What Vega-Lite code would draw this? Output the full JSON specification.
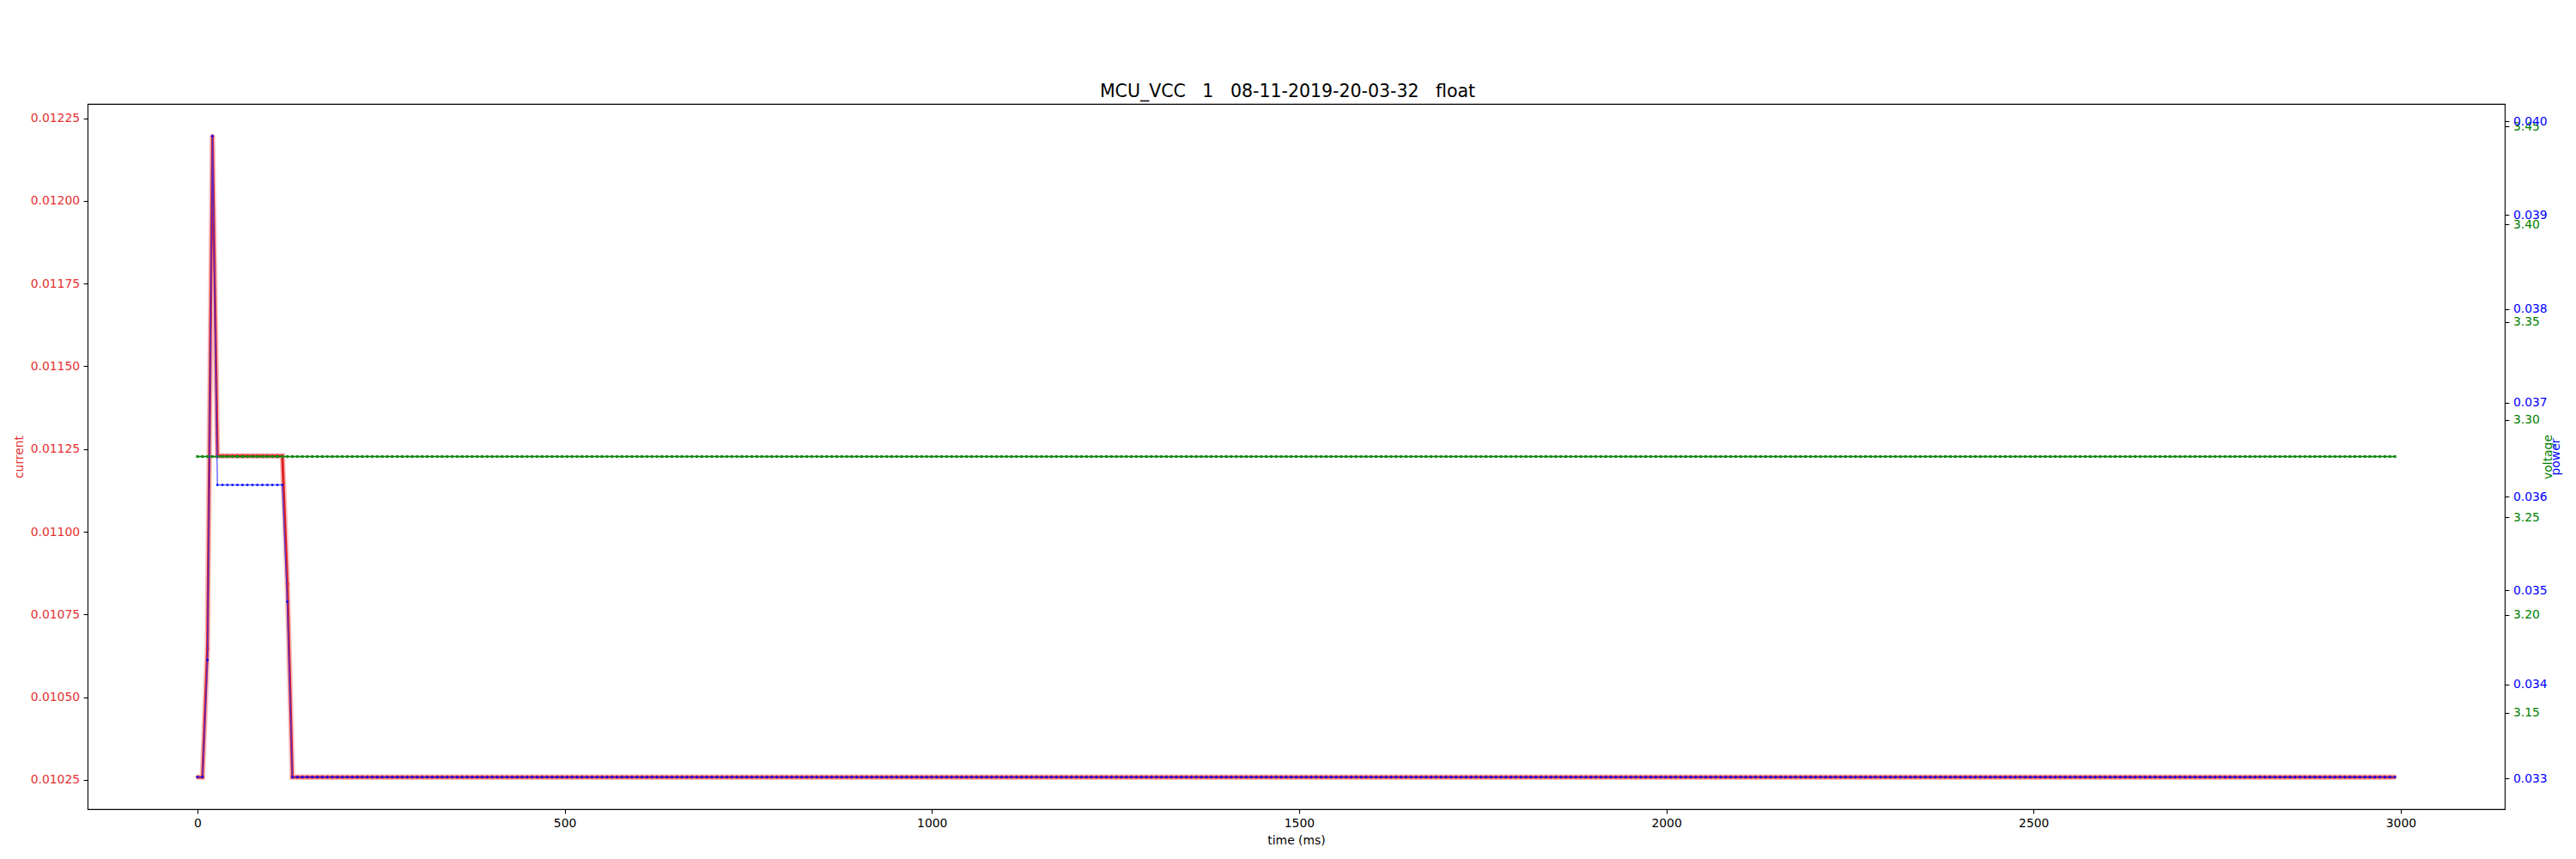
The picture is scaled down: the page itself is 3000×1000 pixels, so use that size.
{
"$schema": "https://vega.github.io/schema/vega-lite/v6.json",
"width": 2815, "height": 821,
"autosize": {"type": "none"},
"padding": {"left": 102, "top": 121, "right": 83, "bottom": 58},
"background": "white",
"config": {
 "view": {"stroke": "black", "strokeWidth": 1.1},
 "font": "DejaVu Sans",
 "axis": {"grid": false, "domain": false, "tickColor": "black", "tickSize": 4.9, "tickWidth": 1.1, "labelPadding": 4.5, "labelFont": "DejaVu Sans", "labelFontSize": 13.9, "titleFont": "DejaVu Sans", "titleFontSize": 13.9, "titleFontWeight": "normal", "labelOverlap": false, "labelFlush": false, "labelBound": false}
},
"title": {"text": "MCU_VCC\u00a0\u00a0\u00a01\u00a0\u00a0\u00a008-11-2019-20-03-32\u00a0\u00a0\u00a0float", "font": "DejaVu Sans", "fontSize": 20.5, "fontWeight": "normal", "color": "black", "anchor": "middle", "frame": "group", "baseline": "alphabetic", "offset": 8.3, "dx": -10, "dy": 21},
"data": {"values": [
{"t":0,"c":0.0102585,"v":3.2811,"p":0.0330128},
{"t":6.8,"c":0.0102585,"v":3.2811,"p":0.0330128},
{"t":13.6,"c":0.010647,"v":3.2811,"p":0.03426},
{"t":20.4,"c":0.012196,"v":3.2811,"p":0.039842},
{"t":27.2,"c":0.0112293,"v":3.2811,"p":0.036125},
{"t":34,"c":0.0112293,"v":3.2811,"p":0.036125},
{"t":40.8,"c":0.0112293,"v":3.2811,"p":0.036125},
{"t":47.6,"c":0.0112293,"v":3.2811,"p":0.036125},
{"t":54.4,"c":0.0112293,"v":3.2811,"p":0.036125},
{"t":61.2,"c":0.0112293,"v":3.2811,"p":0.036125},
{"t":68,"c":0.0112293,"v":3.2811,"p":0.036125},
{"t":74.8,"c":0.0112293,"v":3.2811,"p":0.036125},
{"t":81.6,"c":0.0112293,"v":3.2811,"p":0.036125},
{"t":88.4,"c":0.0112293,"v":3.2811,"p":0.036125},
{"t":95.2,"c":0.0112293,"v":3.2811,"p":0.036125},
{"t":102,"c":0.0112293,"v":3.2811,"p":0.036125},
{"t":108.8,"c":0.0112293,"v":3.2811,"p":0.036125},
{"t":115.6,"c":0.0112293,"v":3.2811,"p":0.036125},
{"t":122.4,"c":0.010842,"v":3.2811,"p":0.034881},
{"t":129.2,"c":0.0102585,"v":3.2811,"p":0.0330128},
{"t":136,"c":0.0102585,"v":3.2811,"p":0.0330128},
{"t":142.8,"c":0.0102585,"v":3.2811,"p":0.0330128},
{"t":149.6,"c":0.0102585,"v":3.2811,"p":0.0330128},
{"t":156.4,"c":0.0102585,"v":3.2811,"p":0.0330128},
{"t":163.2,"c":0.0102585,"v":3.2811,"p":0.0330128},
{"t":170,"c":0.0102585,"v":3.2811,"p":0.0330128},
{"t":176.8,"c":0.0102585,"v":3.2811,"p":0.0330128},
{"t":183.6,"c":0.0102585,"v":3.2811,"p":0.0330128},
{"t":190.4,"c":0.0102585,"v":3.2811,"p":0.0330128},
{"t":197.2,"c":0.0102585,"v":3.2811,"p":0.0330128},
{"t":204,"c":0.0102585,"v":3.2811,"p":0.0330128},
{"t":210.8,"c":0.0102585,"v":3.2811,"p":0.0330128},
{"t":217.6,"c":0.0102585,"v":3.2811,"p":0.0330128},
{"t":224.4,"c":0.0102585,"v":3.2811,"p":0.0330128},
{"t":231.2,"c":0.0102585,"v":3.2811,"p":0.0330128},
{"t":238,"c":0.0102585,"v":3.2811,"p":0.0330128},
{"t":244.8,"c":0.0102585,"v":3.2811,"p":0.0330128},
{"t":251.6,"c":0.0102585,"v":3.2811,"p":0.0330128},
{"t":258.4,"c":0.0102585,"v":3.2811,"p":0.0330128},
{"t":265.2,"c":0.0102585,"v":3.2811,"p":0.0330128},
{"t":272,"c":0.0102585,"v":3.2811,"p":0.0330128},
{"t":278.8,"c":0.0102585,"v":3.2811,"p":0.0330128},
{"t":285.6,"c":0.0102585,"v":3.2811,"p":0.0330128},
{"t":292.4,"c":0.0102585,"v":3.2811,"p":0.0330128},
{"t":299.2,"c":0.0102585,"v":3.2811,"p":0.0330128},
{"t":306,"c":0.0102585,"v":3.2811,"p":0.0330128},
{"t":312.8,"c":0.0102585,"v":3.2811,"p":0.0330128},
{"t":319.6,"c":0.0102585,"v":3.2811,"p":0.0330128},
{"t":326.4,"c":0.0102585,"v":3.2811,"p":0.0330128},
{"t":333.2,"c":0.0102585,"v":3.2811,"p":0.0330128},
{"t":340,"c":0.0102585,"v":3.2811,"p":0.0330128},
{"t":346.8,"c":0.0102585,"v":3.2811,"p":0.0330128},
{"t":353.6,"c":0.0102585,"v":3.2811,"p":0.0330128},
{"t":360.4,"c":0.0102585,"v":3.2811,"p":0.0330128},
{"t":367.2,"c":0.0102585,"v":3.2811,"p":0.0330128},
{"t":374,"c":0.0102585,"v":3.2811,"p":0.0330128},
{"t":380.8,"c":0.0102585,"v":3.2811,"p":0.0330128},
{"t":387.6,"c":0.0102585,"v":3.2811,"p":0.0330128},
{"t":394.4,"c":0.0102585,"v":3.2811,"p":0.0330128},
{"t":401.2,"c":0.0102585,"v":3.2811,"p":0.0330128},
{"t":408,"c":0.0102585,"v":3.2811,"p":0.0330128},
{"t":414.8,"c":0.0102585,"v":3.2811,"p":0.0330128},
{"t":421.6,"c":0.0102585,"v":3.2811,"p":0.0330128},
{"t":428.4,"c":0.0102585,"v":3.2811,"p":0.0330128},
{"t":435.2,"c":0.0102585,"v":3.2811,"p":0.0330128},
{"t":442,"c":0.0102585,"v":3.2811,"p":0.0330128},
{"t":448.8,"c":0.0102585,"v":3.2811,"p":0.0330128},
{"t":455.6,"c":0.0102585,"v":3.2811,"p":0.0330128},
{"t":462.4,"c":0.0102585,"v":3.2811,"p":0.0330128},
{"t":469.2,"c":0.0102585,"v":3.2811,"p":0.0330128},
{"t":476,"c":0.0102585,"v":3.2811,"p":0.0330128},
{"t":482.8,"c":0.0102585,"v":3.2811,"p":0.0330128},
{"t":489.6,"c":0.0102585,"v":3.2811,"p":0.0330128},
{"t":496.4,"c":0.0102585,"v":3.2811,"p":0.0330128},
{"t":503.2,"c":0.0102585,"v":3.2811,"p":0.0330128},
{"t":510,"c":0.0102585,"v":3.2811,"p":0.0330128},
{"t":516.8,"c":0.0102585,"v":3.2811,"p":0.0330128},
{"t":523.6,"c":0.0102585,"v":3.2811,"p":0.0330128},
{"t":530.4,"c":0.0102585,"v":3.2811,"p":0.0330128},
{"t":537.2,"c":0.0102585,"v":3.2811,"p":0.0330128},
{"t":544,"c":0.0102585,"v":3.2811,"p":0.0330128},
{"t":550.8,"c":0.0102585,"v":3.2811,"p":0.0330128},
{"t":557.6,"c":0.0102585,"v":3.2811,"p":0.0330128},
{"t":564.4,"c":0.0102585,"v":3.2811,"p":0.0330128},
{"t":571.2,"c":0.0102585,"v":3.2811,"p":0.0330128},
{"t":578,"c":0.0102585,"v":3.2811,"p":0.0330128},
{"t":584.8,"c":0.0102585,"v":3.2811,"p":0.0330128},
{"t":591.6,"c":0.0102585,"v":3.2811,"p":0.0330128},
{"t":598.4,"c":0.0102585,"v":3.2811,"p":0.0330128},
{"t":605.2,"c":0.0102585,"v":3.2811,"p":0.0330128},
{"t":612,"c":0.0102585,"v":3.2811,"p":0.0330128},
{"t":618.8,"c":0.0102585,"v":3.2811,"p":0.0330128},
{"t":625.6,"c":0.0102585,"v":3.2811,"p":0.0330128},
{"t":632.4,"c":0.0102585,"v":3.2811,"p":0.0330128},
{"t":639.2,"c":0.0102585,"v":3.2811,"p":0.0330128},
{"t":646,"c":0.0102585,"v":3.2811,"p":0.0330128},
{"t":652.8,"c":0.0102585,"v":3.2811,"p":0.0330128},
{"t":659.6,"c":0.0102585,"v":3.2811,"p":0.0330128},
{"t":666.4,"c":0.0102585,"v":3.2811,"p":0.0330128},
{"t":673.2,"c":0.0102585,"v":3.2811,"p":0.0330128},
{"t":680,"c":0.0102585,"v":3.2811,"p":0.0330128},
{"t":686.8,"c":0.0102585,"v":3.2811,"p":0.0330128},
{"t":693.6,"c":0.0102585,"v":3.2811,"p":0.0330128},
{"t":700.4,"c":0.0102585,"v":3.2811,"p":0.0330128},
{"t":707.2,"c":0.0102585,"v":3.2811,"p":0.0330128},
{"t":714,"c":0.0102585,"v":3.2811,"p":0.0330128},
{"t":720.8,"c":0.0102585,"v":3.2811,"p":0.0330128},
{"t":727.6,"c":0.0102585,"v":3.2811,"p":0.0330128},
{"t":734.4,"c":0.0102585,"v":3.2811,"p":0.0330128},
{"t":741.2,"c":0.0102585,"v":3.2811,"p":0.0330128},
{"t":748,"c":0.0102585,"v":3.2811,"p":0.0330128},
{"t":754.8,"c":0.0102585,"v":3.2811,"p":0.0330128},
{"t":761.6,"c":0.0102585,"v":3.2811,"p":0.0330128},
{"t":768.4,"c":0.0102585,"v":3.2811,"p":0.0330128},
{"t":775.2,"c":0.0102585,"v":3.2811,"p":0.0330128},
{"t":782,"c":0.0102585,"v":3.2811,"p":0.0330128},
{"t":788.8,"c":0.0102585,"v":3.2811,"p":0.0330128},
{"t":795.6,"c":0.0102585,"v":3.2811,"p":0.0330128},
{"t":802.4,"c":0.0102585,"v":3.2811,"p":0.0330128},
{"t":809.2,"c":0.0102585,"v":3.2811,"p":0.0330128},
{"t":816,"c":0.0102585,"v":3.2811,"p":0.0330128},
{"t":822.8,"c":0.0102585,"v":3.2811,"p":0.0330128},
{"t":829.6,"c":0.0102585,"v":3.2811,"p":0.0330128},
{"t":836.4,"c":0.0102585,"v":3.2811,"p":0.0330128},
{"t":843.2,"c":0.0102585,"v":3.2811,"p":0.0330128},
{"t":850,"c":0.0102585,"v":3.2811,"p":0.0330128},
{"t":856.8,"c":0.0102585,"v":3.2811,"p":0.0330128},
{"t":863.6,"c":0.0102585,"v":3.2811,"p":0.0330128},
{"t":870.4,"c":0.0102585,"v":3.2811,"p":0.0330128},
{"t":877.2,"c":0.0102585,"v":3.2811,"p":0.0330128},
{"t":884,"c":0.0102585,"v":3.2811,"p":0.0330128},
{"t":890.8,"c":0.0102585,"v":3.2811,"p":0.0330128},
{"t":897.6,"c":0.0102585,"v":3.2811,"p":0.0330128},
{"t":904.4,"c":0.0102585,"v":3.2811,"p":0.0330128},
{"t":911.2,"c":0.0102585,"v":3.2811,"p":0.0330128},
{"t":918,"c":0.0102585,"v":3.2811,"p":0.0330128},
{"t":924.8,"c":0.0102585,"v":3.2811,"p":0.0330128},
{"t":931.6,"c":0.0102585,"v":3.2811,"p":0.0330128},
{"t":938.4,"c":0.0102585,"v":3.2811,"p":0.0330128},
{"t":945.2,"c":0.0102585,"v":3.2811,"p":0.0330128},
{"t":952,"c":0.0102585,"v":3.2811,"p":0.0330128},
{"t":958.8,"c":0.0102585,"v":3.2811,"p":0.0330128},
{"t":965.6,"c":0.0102585,"v":3.2811,"p":0.0330128},
{"t":972.4,"c":0.0102585,"v":3.2811,"p":0.0330128},
{"t":979.2,"c":0.0102585,"v":3.2811,"p":0.0330128},
{"t":986,"c":0.0102585,"v":3.2811,"p":0.0330128},
{"t":992.8,"c":0.0102585,"v":3.2811,"p":0.0330128},
{"t":999.6,"c":0.0102585,"v":3.2811,"p":0.0330128},
{"t":1006.4,"c":0.0102585,"v":3.2811,"p":0.0330128},
{"t":1013.2,"c":0.0102585,"v":3.2811,"p":0.0330128},
{"t":1020,"c":0.0102585,"v":3.2811,"p":0.0330128},
{"t":1026.8,"c":0.0102585,"v":3.2811,"p":0.0330128},
{"t":1033.6,"c":0.0102585,"v":3.2811,"p":0.0330128},
{"t":1040.4,"c":0.0102585,"v":3.2811,"p":0.0330128},
{"t":1047.2,"c":0.0102585,"v":3.2811,"p":0.0330128},
{"t":1054,"c":0.0102585,"v":3.2811,"p":0.0330128},
{"t":1060.8,"c":0.0102585,"v":3.2811,"p":0.0330128},
{"t":1067.6,"c":0.0102585,"v":3.2811,"p":0.0330128},
{"t":1074.4,"c":0.0102585,"v":3.2811,"p":0.0330128},
{"t":1081.2,"c":0.0102585,"v":3.2811,"p":0.0330128},
{"t":1088,"c":0.0102585,"v":3.2811,"p":0.0330128},
{"t":1094.8,"c":0.0102585,"v":3.2811,"p":0.0330128},
{"t":1101.6,"c":0.0102585,"v":3.2811,"p":0.0330128},
{"t":1108.4,"c":0.0102585,"v":3.2811,"p":0.0330128},
{"t":1115.2,"c":0.0102585,"v":3.2811,"p":0.0330128},
{"t":1122,"c":0.0102585,"v":3.2811,"p":0.0330128},
{"t":1128.8,"c":0.0102585,"v":3.2811,"p":0.0330128},
{"t":1135.6,"c":0.0102585,"v":3.2811,"p":0.0330128},
{"t":1142.4,"c":0.0102585,"v":3.2811,"p":0.0330128},
{"t":1149.2,"c":0.0102585,"v":3.2811,"p":0.0330128},
{"t":1156,"c":0.0102585,"v":3.2811,"p":0.0330128},
{"t":1162.8,"c":0.0102585,"v":3.2811,"p":0.0330128},
{"t":1169.6,"c":0.0102585,"v":3.2811,"p":0.0330128},
{"t":1176.4,"c":0.0102585,"v":3.2811,"p":0.0330128},
{"t":1183.2,"c":0.0102585,"v":3.2811,"p":0.0330128},
{"t":1190,"c":0.0102585,"v":3.2811,"p":0.0330128},
{"t":1196.8,"c":0.0102585,"v":3.2811,"p":0.0330128},
{"t":1203.6,"c":0.0102585,"v":3.2811,"p":0.0330128},
{"t":1210.4,"c":0.0102585,"v":3.2811,"p":0.0330128},
{"t":1217.2,"c":0.0102585,"v":3.2811,"p":0.0330128},
{"t":1224,"c":0.0102585,"v":3.2811,"p":0.0330128},
{"t":1230.8,"c":0.0102585,"v":3.2811,"p":0.0330128},
{"t":1237.6,"c":0.0102585,"v":3.2811,"p":0.0330128},
{"t":1244.4,"c":0.0102585,"v":3.2811,"p":0.0330128},
{"t":1251.2,"c":0.0102585,"v":3.2811,"p":0.0330128},
{"t":1258,"c":0.0102585,"v":3.2811,"p":0.0330128},
{"t":1264.8,"c":0.0102585,"v":3.2811,"p":0.0330128},
{"t":1271.6,"c":0.0102585,"v":3.2811,"p":0.0330128},
{"t":1278.4,"c":0.0102585,"v":3.2811,"p":0.0330128},
{"t":1285.2,"c":0.0102585,"v":3.2811,"p":0.0330128},
{"t":1292,"c":0.0102585,"v":3.2811,"p":0.0330128},
{"t":1298.8,"c":0.0102585,"v":3.2811,"p":0.0330128},
{"t":1305.6,"c":0.0102585,"v":3.2811,"p":0.0330128},
{"t":1312.4,"c":0.0102585,"v":3.2811,"p":0.0330128},
{"t":1319.2,"c":0.0102585,"v":3.2811,"p":0.0330128},
{"t":1326,"c":0.0102585,"v":3.2811,"p":0.0330128},
{"t":1332.8,"c":0.0102585,"v":3.2811,"p":0.0330128},
{"t":1339.6,"c":0.0102585,"v":3.2811,"p":0.0330128},
{"t":1346.4,"c":0.0102585,"v":3.2811,"p":0.0330128},
{"t":1353.2,"c":0.0102585,"v":3.2811,"p":0.0330128},
{"t":1360,"c":0.0102585,"v":3.2811,"p":0.0330128},
{"t":1366.8,"c":0.0102585,"v":3.2811,"p":0.0330128},
{"t":1373.6,"c":0.0102585,"v":3.2811,"p":0.0330128},
{"t":1380.4,"c":0.0102585,"v":3.2811,"p":0.0330128},
{"t":1387.2,"c":0.0102585,"v":3.2811,"p":0.0330128},
{"t":1394,"c":0.0102585,"v":3.2811,"p":0.0330128},
{"t":1400.8,"c":0.0102585,"v":3.2811,"p":0.0330128},
{"t":1407.6,"c":0.0102585,"v":3.2811,"p":0.0330128},
{"t":1414.4,"c":0.0102585,"v":3.2811,"p":0.0330128},
{"t":1421.2,"c":0.0102585,"v":3.2811,"p":0.0330128},
{"t":1428,"c":0.0102585,"v":3.2811,"p":0.0330128},
{"t":1434.8,"c":0.0102585,"v":3.2811,"p":0.0330128},
{"t":1441.6,"c":0.0102585,"v":3.2811,"p":0.0330128},
{"t":1448.4,"c":0.0102585,"v":3.2811,"p":0.0330128},
{"t":1455.2,"c":0.0102585,"v":3.2811,"p":0.0330128},
{"t":1462,"c":0.0102585,"v":3.2811,"p":0.0330128},
{"t":1468.8,"c":0.0102585,"v":3.2811,"p":0.0330128},
{"t":1475.6,"c":0.0102585,"v":3.2811,"p":0.0330128},
{"t":1482.4,"c":0.0102585,"v":3.2811,"p":0.0330128},
{"t":1489.2,"c":0.0102585,"v":3.2811,"p":0.0330128},
{"t":1496,"c":0.0102585,"v":3.2811,"p":0.0330128},
{"t":1502.8,"c":0.0102585,"v":3.2811,"p":0.0330128},
{"t":1509.6,"c":0.0102585,"v":3.2811,"p":0.0330128},
{"t":1516.4,"c":0.0102585,"v":3.2811,"p":0.0330128},
{"t":1523.2,"c":0.0102585,"v":3.2811,"p":0.0330128},
{"t":1530,"c":0.0102585,"v":3.2811,"p":0.0330128},
{"t":1536.8,"c":0.0102585,"v":3.2811,"p":0.0330128},
{"t":1543.6,"c":0.0102585,"v":3.2811,"p":0.0330128},
{"t":1550.4,"c":0.0102585,"v":3.2811,"p":0.0330128},
{"t":1557.2,"c":0.0102585,"v":3.2811,"p":0.0330128},
{"t":1564,"c":0.0102585,"v":3.2811,"p":0.0330128},
{"t":1570.8,"c":0.0102585,"v":3.2811,"p":0.0330128},
{"t":1577.6,"c":0.0102585,"v":3.2811,"p":0.0330128},
{"t":1584.4,"c":0.0102585,"v":3.2811,"p":0.0330128},
{"t":1591.2,"c":0.0102585,"v":3.2811,"p":0.0330128},
{"t":1598,"c":0.0102585,"v":3.2811,"p":0.0330128},
{"t":1604.8,"c":0.0102585,"v":3.2811,"p":0.0330128},
{"t":1611.6,"c":0.0102585,"v":3.2811,"p":0.0330128},
{"t":1618.4,"c":0.0102585,"v":3.2811,"p":0.0330128},
{"t":1625.2,"c":0.0102585,"v":3.2811,"p":0.0330128},
{"t":1632,"c":0.0102585,"v":3.2811,"p":0.0330128},
{"t":1638.8,"c":0.0102585,"v":3.2811,"p":0.0330128},
{"t":1645.6,"c":0.0102585,"v":3.2811,"p":0.0330128},
{"t":1652.4,"c":0.0102585,"v":3.2811,"p":0.0330128},
{"t":1659.2,"c":0.0102585,"v":3.2811,"p":0.0330128},
{"t":1666,"c":0.0102585,"v":3.2811,"p":0.0330128},
{"t":1672.8,"c":0.0102585,"v":3.2811,"p":0.0330128},
{"t":1679.6,"c":0.0102585,"v":3.2811,"p":0.0330128},
{"t":1686.4,"c":0.0102585,"v":3.2811,"p":0.0330128},
{"t":1693.2,"c":0.0102585,"v":3.2811,"p":0.0330128},
{"t":1700,"c":0.0102585,"v":3.2811,"p":0.0330128},
{"t":1706.8,"c":0.0102585,"v":3.2811,"p":0.0330128},
{"t":1713.6,"c":0.0102585,"v":3.2811,"p":0.0330128},
{"t":1720.4,"c":0.0102585,"v":3.2811,"p":0.0330128},
{"t":1727.2,"c":0.0102585,"v":3.2811,"p":0.0330128},
{"t":1734,"c":0.0102585,"v":3.2811,"p":0.0330128},
{"t":1740.8,"c":0.0102585,"v":3.2811,"p":0.0330128},
{"t":1747.6,"c":0.0102585,"v":3.2811,"p":0.0330128},
{"t":1754.4,"c":0.0102585,"v":3.2811,"p":0.0330128},
{"t":1761.2,"c":0.0102585,"v":3.2811,"p":0.0330128},
{"t":1768,"c":0.0102585,"v":3.2811,"p":0.0330128},
{"t":1774.8,"c":0.0102585,"v":3.2811,"p":0.0330128},
{"t":1781.6,"c":0.0102585,"v":3.2811,"p":0.0330128},
{"t":1788.4,"c":0.0102585,"v":3.2811,"p":0.0330128},
{"t":1795.2,"c":0.0102585,"v":3.2811,"p":0.0330128},
{"t":1802,"c":0.0102585,"v":3.2811,"p":0.0330128},
{"t":1808.8,"c":0.0102585,"v":3.2811,"p":0.0330128},
{"t":1815.6,"c":0.0102585,"v":3.2811,"p":0.0330128},
{"t":1822.4,"c":0.0102585,"v":3.2811,"p":0.0330128},
{"t":1829.2,"c":0.0102585,"v":3.2811,"p":0.0330128},
{"t":1836,"c":0.0102585,"v":3.2811,"p":0.0330128},
{"t":1842.8,"c":0.0102585,"v":3.2811,"p":0.0330128},
{"t":1849.6,"c":0.0102585,"v":3.2811,"p":0.0330128},
{"t":1856.4,"c":0.0102585,"v":3.2811,"p":0.0330128},
{"t":1863.2,"c":0.0102585,"v":3.2811,"p":0.0330128},
{"t":1870,"c":0.0102585,"v":3.2811,"p":0.0330128},
{"t":1876.8,"c":0.0102585,"v":3.2811,"p":0.0330128},
{"t":1883.6,"c":0.0102585,"v":3.2811,"p":0.0330128},
{"t":1890.4,"c":0.0102585,"v":3.2811,"p":0.0330128},
{"t":1897.2,"c":0.0102585,"v":3.2811,"p":0.0330128},
{"t":1904,"c":0.0102585,"v":3.2811,"p":0.0330128},
{"t":1910.8,"c":0.0102585,"v":3.2811,"p":0.0330128},
{"t":1917.6,"c":0.0102585,"v":3.2811,"p":0.0330128},
{"t":1924.4,"c":0.0102585,"v":3.2811,"p":0.0330128},
{"t":1931.2,"c":0.0102585,"v":3.2811,"p":0.0330128},
{"t":1938,"c":0.0102585,"v":3.2811,"p":0.0330128},
{"t":1944.8,"c":0.0102585,"v":3.2811,"p":0.0330128},
{"t":1951.6,"c":0.0102585,"v":3.2811,"p":0.0330128},
{"t":1958.4,"c":0.0102585,"v":3.2811,"p":0.0330128},
{"t":1965.2,"c":0.0102585,"v":3.2811,"p":0.0330128},
{"t":1972,"c":0.0102585,"v":3.2811,"p":0.0330128},
{"t":1978.8,"c":0.0102585,"v":3.2811,"p":0.0330128},
{"t":1985.6,"c":0.0102585,"v":3.2811,"p":0.0330128},
{"t":1992.4,"c":0.0102585,"v":3.2811,"p":0.0330128},
{"t":1999.2,"c":0.0102585,"v":3.2811,"p":0.0330128},
{"t":2006,"c":0.0102585,"v":3.2811,"p":0.0330128},
{"t":2012.8,"c":0.0102585,"v":3.2811,"p":0.0330128},
{"t":2019.6,"c":0.0102585,"v":3.2811,"p":0.0330128},
{"t":2026.4,"c":0.0102585,"v":3.2811,"p":0.0330128},
{"t":2033.2,"c":0.0102585,"v":3.2811,"p":0.0330128},
{"t":2040,"c":0.0102585,"v":3.2811,"p":0.0330128},
{"t":2046.8,"c":0.0102585,"v":3.2811,"p":0.0330128},
{"t":2053.6,"c":0.0102585,"v":3.2811,"p":0.0330128},
{"t":2060.4,"c":0.0102585,"v":3.2811,"p":0.0330128},
{"t":2067.2,"c":0.0102585,"v":3.2811,"p":0.0330128},
{"t":2074,"c":0.0102585,"v":3.2811,"p":0.0330128},
{"t":2080.8,"c":0.0102585,"v":3.2811,"p":0.0330128},
{"t":2087.6,"c":0.0102585,"v":3.2811,"p":0.0330128},
{"t":2094.4,"c":0.0102585,"v":3.2811,"p":0.0330128},
{"t":2101.2,"c":0.0102585,"v":3.2811,"p":0.0330128},
{"t":2108,"c":0.0102585,"v":3.2811,"p":0.0330128},
{"t":2114.8,"c":0.0102585,"v":3.2811,"p":0.0330128},
{"t":2121.6,"c":0.0102585,"v":3.2811,"p":0.0330128},
{"t":2128.4,"c":0.0102585,"v":3.2811,"p":0.0330128},
{"t":2135.2,"c":0.0102585,"v":3.2811,"p":0.0330128},
{"t":2142,"c":0.0102585,"v":3.2811,"p":0.0330128},
{"t":2148.8,"c":0.0102585,"v":3.2811,"p":0.0330128},
{"t":2155.6,"c":0.0102585,"v":3.2811,"p":0.0330128},
{"t":2162.4,"c":0.0102585,"v":3.2811,"p":0.0330128},
{"t":2169.2,"c":0.0102585,"v":3.2811,"p":0.0330128},
{"t":2176,"c":0.0102585,"v":3.2811,"p":0.0330128},
{"t":2182.8,"c":0.0102585,"v":3.2811,"p":0.0330128},
{"t":2189.6,"c":0.0102585,"v":3.2811,"p":0.0330128},
{"t":2196.4,"c":0.0102585,"v":3.2811,"p":0.0330128},
{"t":2203.2,"c":0.0102585,"v":3.2811,"p":0.0330128},
{"t":2210,"c":0.0102585,"v":3.2811,"p":0.0330128},
{"t":2216.8,"c":0.0102585,"v":3.2811,"p":0.0330128},
{"t":2223.6,"c":0.0102585,"v":3.2811,"p":0.0330128},
{"t":2230.4,"c":0.0102585,"v":3.2811,"p":0.0330128},
{"t":2237.2,"c":0.0102585,"v":3.2811,"p":0.0330128},
{"t":2244,"c":0.0102585,"v":3.2811,"p":0.0330128},
{"t":2250.8,"c":0.0102585,"v":3.2811,"p":0.0330128},
{"t":2257.6,"c":0.0102585,"v":3.2811,"p":0.0330128},
{"t":2264.4,"c":0.0102585,"v":3.2811,"p":0.0330128},
{"t":2271.2,"c":0.0102585,"v":3.2811,"p":0.0330128},
{"t":2278,"c":0.0102585,"v":3.2811,"p":0.0330128},
{"t":2284.8,"c":0.0102585,"v":3.2811,"p":0.0330128},
{"t":2291.6,"c":0.0102585,"v":3.2811,"p":0.0330128},
{"t":2298.4,"c":0.0102585,"v":3.2811,"p":0.0330128},
{"t":2305.2,"c":0.0102585,"v":3.2811,"p":0.0330128},
{"t":2312,"c":0.0102585,"v":3.2811,"p":0.0330128},
{"t":2318.8,"c":0.0102585,"v":3.2811,"p":0.0330128},
{"t":2325.6,"c":0.0102585,"v":3.2811,"p":0.0330128},
{"t":2332.4,"c":0.0102585,"v":3.2811,"p":0.0330128},
{"t":2339.2,"c":0.0102585,"v":3.2811,"p":0.0330128},
{"t":2346,"c":0.0102585,"v":3.2811,"p":0.0330128},
{"t":2352.8,"c":0.0102585,"v":3.2811,"p":0.0330128},
{"t":2359.6,"c":0.0102585,"v":3.2811,"p":0.0330128},
{"t":2366.4,"c":0.0102585,"v":3.2811,"p":0.0330128},
{"t":2373.2,"c":0.0102585,"v":3.2811,"p":0.0330128},
{"t":2380,"c":0.0102585,"v":3.2811,"p":0.0330128},
{"t":2386.8,"c":0.0102585,"v":3.2811,"p":0.0330128},
{"t":2393.6,"c":0.0102585,"v":3.2811,"p":0.0330128},
{"t":2400.4,"c":0.0102585,"v":3.2811,"p":0.0330128},
{"t":2407.2,"c":0.0102585,"v":3.2811,"p":0.0330128},
{"t":2414,"c":0.0102585,"v":3.2811,"p":0.0330128},
{"t":2420.8,"c":0.0102585,"v":3.2811,"p":0.0330128},
{"t":2427.6,"c":0.0102585,"v":3.2811,"p":0.0330128},
{"t":2434.4,"c":0.0102585,"v":3.2811,"p":0.0330128},
{"t":2441.2,"c":0.0102585,"v":3.2811,"p":0.0330128},
{"t":2448,"c":0.0102585,"v":3.2811,"p":0.0330128},
{"t":2454.8,"c":0.0102585,"v":3.2811,"p":0.0330128},
{"t":2461.6,"c":0.0102585,"v":3.2811,"p":0.0330128},
{"t":2468.4,"c":0.0102585,"v":3.2811,"p":0.0330128},
{"t":2475.2,"c":0.0102585,"v":3.2811,"p":0.0330128},
{"t":2482,"c":0.0102585,"v":3.2811,"p":0.0330128},
{"t":2488.8,"c":0.0102585,"v":3.2811,"p":0.0330128},
{"t":2495.6,"c":0.0102585,"v":3.2811,"p":0.0330128},
{"t":2502.4,"c":0.0102585,"v":3.2811,"p":0.0330128},
{"t":2509.2,"c":0.0102585,"v":3.2811,"p":0.0330128},
{"t":2516,"c":0.0102585,"v":3.2811,"p":0.0330128},
{"t":2522.8,"c":0.0102585,"v":3.2811,"p":0.0330128},
{"t":2529.6,"c":0.0102585,"v":3.2811,"p":0.0330128},
{"t":2536.4,"c":0.0102585,"v":3.2811,"p":0.0330128},
{"t":2543.2,"c":0.0102585,"v":3.2811,"p":0.0330128},
{"t":2550,"c":0.0102585,"v":3.2811,"p":0.0330128},
{"t":2556.8,"c":0.0102585,"v":3.2811,"p":0.0330128},
{"t":2563.6,"c":0.0102585,"v":3.2811,"p":0.0330128},
{"t":2570.4,"c":0.0102585,"v":3.2811,"p":0.0330128},
{"t":2577.2,"c":0.0102585,"v":3.2811,"p":0.0330128},
{"t":2584,"c":0.0102585,"v":3.2811,"p":0.0330128},
{"t":2590.8,"c":0.0102585,"v":3.2811,"p":0.0330128},
{"t":2597.6,"c":0.0102585,"v":3.2811,"p":0.0330128},
{"t":2604.4,"c":0.0102585,"v":3.2811,"p":0.0330128},
{"t":2611.2,"c":0.0102585,"v":3.2811,"p":0.0330128},
{"t":2618,"c":0.0102585,"v":3.2811,"p":0.0330128},
{"t":2624.8,"c":0.0102585,"v":3.2811,"p":0.0330128},
{"t":2631.6,"c":0.0102585,"v":3.2811,"p":0.0330128},
{"t":2638.4,"c":0.0102585,"v":3.2811,"p":0.0330128},
{"t":2645.2,"c":0.0102585,"v":3.2811,"p":0.0330128},
{"t":2652,"c":0.0102585,"v":3.2811,"p":0.0330128},
{"t":2658.8,"c":0.0102585,"v":3.2811,"p":0.0330128},
{"t":2665.6,"c":0.0102585,"v":3.2811,"p":0.0330128},
{"t":2672.4,"c":0.0102585,"v":3.2811,"p":0.0330128},
{"t":2679.2,"c":0.0102585,"v":3.2811,"p":0.0330128},
{"t":2686,"c":0.0102585,"v":3.2811,"p":0.0330128},
{"t":2692.8,"c":0.0102585,"v":3.2811,"p":0.0330128},
{"t":2699.6,"c":0.0102585,"v":3.2811,"p":0.0330128},
{"t":2706.4,"c":0.0102585,"v":3.2811,"p":0.0330128},
{"t":2713.2,"c":0.0102585,"v":3.2811,"p":0.0330128},
{"t":2720,"c":0.0102585,"v":3.2811,"p":0.0330128},
{"t":2726.8,"c":0.0102585,"v":3.2811,"p":0.0330128},
{"t":2733.6,"c":0.0102585,"v":3.2811,"p":0.0330128},
{"t":2740.4,"c":0.0102585,"v":3.2811,"p":0.0330128},
{"t":2747.2,"c":0.0102585,"v":3.2811,"p":0.0330128},
{"t":2754,"c":0.0102585,"v":3.2811,"p":0.0330128},
{"t":2760.8,"c":0.0102585,"v":3.2811,"p":0.0330128},
{"t":2767.6,"c":0.0102585,"v":3.2811,"p":0.0330128},
{"t":2774.4,"c":0.0102585,"v":3.2811,"p":0.0330128},
{"t":2781.2,"c":0.0102585,"v":3.2811,"p":0.0330128},
{"t":2788,"c":0.0102585,"v":3.2811,"p":0.0330128},
{"t":2794.8,"c":0.0102585,"v":3.2811,"p":0.0330128},
{"t":2801.6,"c":0.0102585,"v":3.2811,"p":0.0330128},
{"t":2808.4,"c":0.0102585,"v":3.2811,"p":0.0330128},
{"t":2815.2,"c":0.0102585,"v":3.2811,"p":0.0330128},
{"t":2822,"c":0.0102585,"v":3.2811,"p":0.0330128},
{"t":2828.8,"c":0.0102585,"v":3.2811,"p":0.0330128},
{"t":2835.6,"c":0.0102585,"v":3.2811,"p":0.0330128},
{"t":2842.4,"c":0.0102585,"v":3.2811,"p":0.0330128},
{"t":2849.2,"c":0.0102585,"v":3.2811,"p":0.0330128},
{"t":2856,"c":0.0102585,"v":3.2811,"p":0.0330128},
{"t":2862.8,"c":0.0102585,"v":3.2811,"p":0.0330128},
{"t":2869.6,"c":0.0102585,"v":3.2811,"p":0.0330128},
{"t":2876.4,"c":0.0102585,"v":3.2811,"p":0.0330128},
{"t":2883.2,"c":0.0102585,"v":3.2811,"p":0.0330128},
{"t":2890,"c":0.0102585,"v":3.2811,"p":0.0330128},
{"t":2896.8,"c":0.0102585,"v":3.2811,"p":0.0330128},
{"t":2903.6,"c":0.0102585,"v":3.2811,"p":0.0330128},
{"t":2910.4,"c":0.0102585,"v":3.2811,"p":0.0330128},
{"t":2917.2,"c":0.0102585,"v":3.2811,"p":0.0330128},
{"t":2924,"c":0.0102585,"v":3.2811,"p":0.0330128},
{"t":2930.8,"c":0.0102585,"v":3.2811,"p":0.0330128},
{"t":2937.6,"c":0.0102585,"v":3.2811,"p":0.0330128},
{"t":2944.4,"c":0.0102585,"v":3.2811,"p":0.0330128},
{"t":2951.2,"c":0.0102585,"v":3.2811,"p":0.0330128},
{"t":2958,"c":0.0102585,"v":3.2811,"p":0.0330128},
{"t":2964.8,"c":0.0102585,"v":3.2811,"p":0.0330128},
{"t":2971.6,"c":0.0102585,"v":3.2811,"p":0.0330128},
{"t":2978.4,"c":0.0102585,"v":3.2811,"p":0.0330128},
{"t":2985.2,"c":0.0102585,"v":3.2811,"p":0.0330128},
{"t":2992,"c":0.0102585,"v":3.2811,"p":0.0330128}
]},
"encoding": {
 "x": {"field": "t", "type": "quantitative", "scale": {"domain": [-149.6, 3141.6], "nice": false, "zero": false}, "axis": {"values": [0, 500, 1000, 1500, 2000, 2500, 3000], "format": "d", "title": "time (ms)", "labelColor": "black", "titleColor": "black", "titleBaseline": "alphabetic", "titleY": 40.5}}
},
"layer": [
 {
  "encoding": {"y": {"field": "c", "type": "quantitative", "scale": {"domain": [0.0101616, 0.0122929], "nice": false, "zero": false}, "axis": {"orient": "left", "title": "current", "values": [0.01025, 0.0105, 0.01075, 0.011, 0.01125, 0.0115, 0.01175, 0.012, 0.01225], "format": ".5f", "labelColor": "#e53030", "titleColor": "#e53030", "titleAngle": 270, "titleBaseline": "alphabetic", "titleX": -76, "titleY": 410.5, "titleAlign": "center"}}},
  "layer": [
   {"mark": {"type": "line", "color": "#f08080", "strokeWidth": 6.5, "opacity": 0.5}},
   {"mark": {"type": "line", "color": "#e02020", "strokeWidth": 3, "point": {"filled": true, "size": 22, "color": "#e83030", "opacity": 0.6}}}
  ]
 },
 {
  "mark": {"type": "line", "color": "#008000", "strokeWidth": 1.5, "point": {"filled": true, "shape": "square", "size": 10, "color": "#1a8a1a"}},
  "encoding": {"y": {"field": "v", "type": "quantitative", "scale": {"domain": [3.1006, 3.4616], "nice": false, "zero": false}, "axis": {"orient": "right", "title": "voltage", "values": [3.15, 3.2, 3.25, 3.3, 3.35, 3.4, 3.45], "format": ".2f", "labelColor": "#008000", "titleColor": "#008000", "titleAngle": 270, "titleBaseline": "alphabetic", "titleX": 54, "titleY": 410.5, "titleAlign": "center"}}}
 },
 {
  "mark": {"type": "line", "color": "#3030ff", "strokeWidth": 1.4, "opacity": 0.75, "point": {"filled": true, "size": 8, "color": "#0000ff"}},
  "encoding": {"y": {"field": "p", "type": "quantitative", "scale": {"domain": [0.032671, 0.040184], "nice": false, "zero": false}, "axis": {"orient": "right", "title": "power", "values": [0.033, 0.034, 0.035, 0.036, 0.037, 0.038, 0.039, 0.04], "format": ".3f", "labelColor": "#0000ff", "titleColor": "#0000ff", "titleAngle": 270, "titleBaseline": "alphabetic", "titleX": 63, "titleY": 410.5, "titleAlign": "center"}}}
 }
],
"resolve": {"scale": {"y": "independent"}, "axis": {"y": "independent"}}
}
